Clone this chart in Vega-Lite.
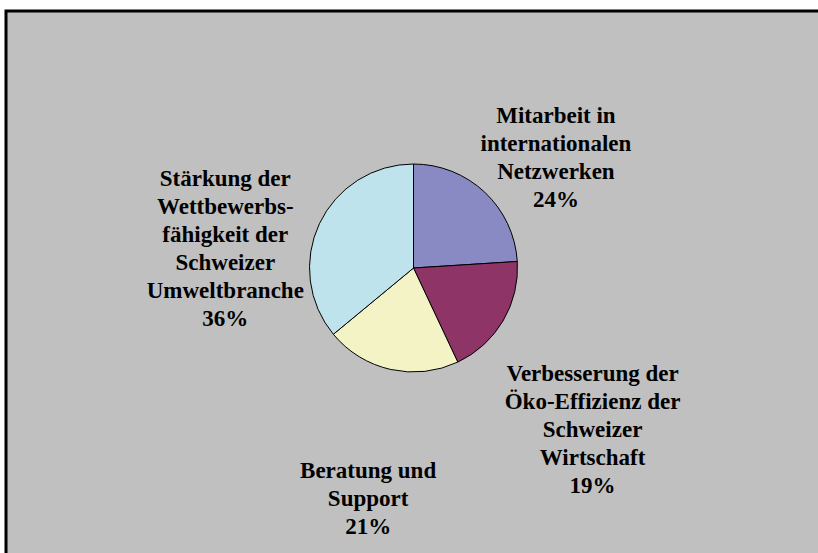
{
  "$schema": "https://vega.github.io/schema/vega-lite/v6.json",
  "width": 815,
  "height": 514,
  "autosize": {"type": "none"},
  "padding": {"left": 6, "top": 11, "right": 0, "bottom": 28},
  "background": "white",
  "config": {
    "view": {"stroke": null},
    "text": {"lineBreak": "\n"}
  },
  "data": {
    "values": [
      {"category": "Mitarbeit in internationalen Netzwerken", "label": "Mitarbeit in\ninternationalen\nNetzwerken\n24%", "share": 24, "order": 1},
      {"category": "Verbesserung der Öko-Effizienz der Schweizer Wirtschaft", "label": "Verbesserung der\nÖko-Effizienz der\nSchweizer\nWirtschaft\n19%", "share": 19, "order": 2},
      {"category": "Beratung und Support", "label": "Beratung und\nSupport\n21%", "share": 21, "order": 3},
      {"category": "Stärkung der Wettbewerbsfähigkeit der Schweizer Umweltbranche", "label": "Stärkung der\nWettbewerbs-\nfähigkeit der\nSchweizer\nUmweltbranche\n36%", "share": 36, "order": 4}
    ]
  },
  "layer": [
    {
      "data": {"values": [{"frame": "background"}]},
      "mark": {"type": "rect", "fill": "#C0C0C0", "stroke": "black", "strokeWidth": 3},
      "encoding": {
        "x": {"value": 0},
        "x2": {"value": 830},
        "y": {"value": 0},
        "y2": {"value": 560}
      }
    },
    {
      "mark": {"type": "arc", "stroke": "black", "strokeWidth": 1, "radius": 104},
      "encoding": {
        "theta": {"field": "share", "type": "quantitative", "stack": true},
        "order": {"field": "order", "type": "quantitative"},
        "color": {
          "field": "category",
          "type": "nominal",
          "legend": null,
          "scale": {
            "domain": [
              "Mitarbeit in internationalen Netzwerken",
              "Verbesserung der Öko-Effizienz der Schweizer Wirtschaft",
              "Beratung und Support",
              "Stärkung der Wettbewerbsfähigkeit der Schweizer Umweltbranche"
            ],
            "range": ["#8989C3", "#8E3467", "#F3F3C6", "#BEE3EC"]
          }
        }
      }
    },
    {
      "mark": {
        "type": "text",
        "radius": 208,
        "font": "Liberation Serif",
        "fontWeight": "bold",
        "fontSize": 23,
        "lineHeight": 28,
        "align": "center",
        "baseline": "middle",
        "color": "black"
      },
      "encoding": {
        "theta": {"field": "share", "type": "quantitative", "stack": true},
        "order": {"field": "order", "type": "quantitative"},
        "text": {"field": "label", "type": "nominal"}
      }
    }
  ]
}
